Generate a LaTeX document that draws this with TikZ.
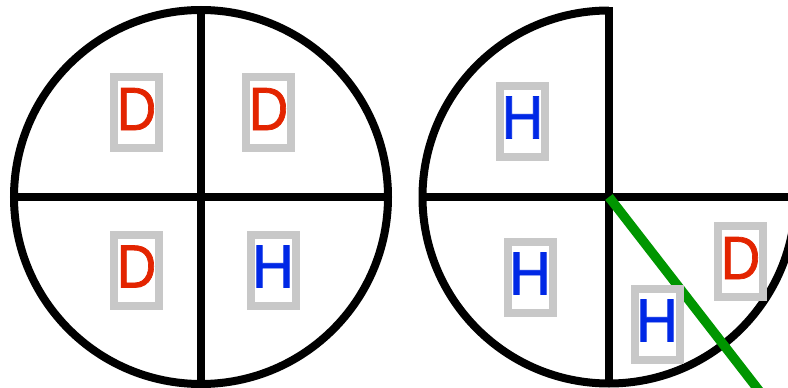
\documentclass[tikz,border=0pt]{standalone}
\usepackage{fontspec}
\setmainfont{Liberation Sans}
\newfontfamily\tagfont[FakeBold=1.2]{Liberation Sans}
\definecolor{dred}{RGB}{227,36,0}
\definecolor{hblue}{RGB}{0,40,230}
\definecolor{boxgray}{RGB}{200,200,200}
\definecolor{cutgreen}{RGB}{0,150,0}
\begin{document}
\begin{tikzpicture}[x=1pt,y=1pt,
  wheel/.style={line width=8pt,draw=black},
  tag/.style={draw=boxgray,line width=8pt,fill=white,inner sep=0pt,
    minimum width=45pt,minimum height=71pt,text height=44pt,text depth=9pt,
    font=\tagfont\fontsize{61}{61}\selectfont},
  dtag/.style={tag,text=dred},
  htag/.style={tag,text=hblue},
  cut/.style={line width=9.5pt,draw=cutgreen}]
\useasboundingbox (0,0) rectangle (788,-388);
\clip (0,0) rectangle (788,-388);
% left circle
\coordinate (c1) at (201,-197);
\draw[wheel] (c1) circle (187);
\draw[wheel] (201,-10) -- (201,-384);
\draw[wheel] (14,-197) -- (388,-197);
% right shape
\coordinate (c2) at (609,-197);
\draw[wheel] (609,-10.5) arc (90:270:186.5);
\draw[wheel] (609,-383.5) arc (270:360:186.5);
\draw[wheel] (609,-7) -- (609,-387);
\draw[wheel] (422.5,-197) -- (800,-197);
\coordinate (gend) at (786.6,-426.2);
\draw[cut] (c2) -- (gend);
% tags
\node[dtag] (d1) at (136.5,-112.5) {\scalebox{0.9}[1]{D}};
\node[dtag] (d2) at (268.5,-112.5) {\scalebox{0.9}[1]{D}};
\node[dtag] (d3) at (136.5,-270) {\scalebox{0.9}[1]{D}};
\node[htag] (h1) at (273,-270) {\scalebox{0.95}[1]{H}};
\node[htag] (h2) at (522.5,-121) {\scalebox{0.95}[1]{H}};
\node[htag] (h3) at (530,-277) {\scalebox{0.95}[1]{H}};
\node[dtag] (d4) at (740.5,-261.5) {\scalebox{0.9}[1]{D}};
\node[htag] (h4) at (657,-324) {\scalebox{0.95}[1]{H}};
\end{tikzpicture}
\end{document}
